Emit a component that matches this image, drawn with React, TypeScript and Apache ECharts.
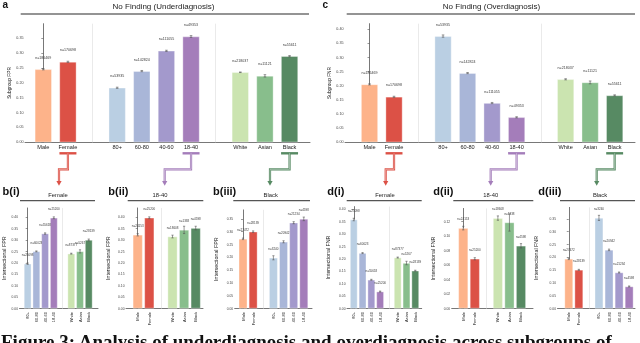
import React, { useEffect, useRef } from 'react';
import * as echarts from 'echarts';

// ---------------- data ----------------
const topNames = ['Male', 'Female', '80+', '60-80', '40-60', '18-40', 'White', 'Asian', 'Black'];
const topIdx = [0, 1, 3, 4, 5, 6, 8, 9, 10];
const topGaps = [2, 7];
const topN = [186469, 170698, 53935, 142824, 111055, 49353, 218037, 11121, 55611];
const fprTop = [0.245, 0.270, 0.183, 0.239, 0.307, 0.355, 0.235, 0.223, 0.289];
const fprTopErr = [0.002, 0.002, 0.002, 0.002, 0.002, 0.003, 0.001, 0.004, 0.002];
const fnrTop = [0.205, 0.161, 0.376, 0.245, 0.139, 0.0885, 0.223, 0.212, 0.166];
const fnrTopErr = [0.002, 0.002, 0.004, 0.002, 0.002, 0.002, 0.002, 0.005, 0.002];

const femaleNames = ['80+', '60-80', '40-60', '18-40', 'White', 'Asian', 'Black'];
const femaleIdx = [0, 1, 2, 3, 5, 6, 7];
const femaleGaps = [4];
const femaleN = [25098, 60023, 55618, 25200, 87377, 5267, 28139];
const fprFemale = [0.196, 0.250, 0.328, 0.397, 0.240, 0.250, 0.300];
const fprFemaleErr = [0.003, 0.002, 0.003, 0.004, 0.002, 0.007, 0.004];
const fnrFemale = [0.358, 0.223, 0.1155, 0.068, 0.205, 0.183, 0.152];
const fnrFemaleErr = [0.005, 0.002, 0.002, 0.002, 0.002, 0.007, 0.002];

const youngNames = ['Male', 'Female', 'White', 'Asian', 'Black'];
const youngIdx = [0, 1, 3, 4, 5];
const youngGaps = [2];
const youngN = [24153, 25200, 18608, 1338, 4598];
const fprYoung = [0.3225, 0.397, 0.315, 0.344, 0.352];
const fprYoungErr = [0.005, 0.004, 0.006, 0.016, 0.008];
const fnrYoung = [0.1109, 0.0686, 0.1247, 0.1187, 0.0865];
const fnrYoungErr = [0.0025, 0.0015, 0.003, 0.012, 0.003];

const blackNames = ['Male', 'Female', '80+', '60-80', '40-60', '18-40'];
const blackIdx = [0, 1, 3, 4, 5, 6];
const blackGaps = [2];
const blackN = [27472, 28139, 3240, 20942, 21234, 4598];
const fprBlack = [0.272, 0.300, 0.198, 0.2605, 0.335, 0.350];
const fprBlackErr = [0.003, 0.003, 0.008, 0.004, 0.004, 0.007];
const fnrBlack = [0.194, 0.151, 0.354, 0.229, 0.1406, 0.086];
const fnrBlackErr = [0.003, 0.002, 0.010, 0.003, 0.002, 0.002];

const ticks035 = [0, 0.05, 0.1, 0.15, 0.2, 0.25, 0.3, 0.35];
const ticks040 = [0, 0.05, 0.1, 0.15, 0.2, 0.25, 0.3, 0.35, 0.4];
const ticks012 = [0, 0.02, 0.04, 0.06, 0.08, 0.1, 0.12];

const colorOf: Record<string, string> = {
  Male: '#FDB38A', Female: '#DC5146',
  '80+': '#BACFE3', '60-80': '#A9B6D8', '40-60': '#A399CC', '18-40': '#A47DBA',
  White: '#CBE4B0', Asian: '#88BE8C', Black: '#578A63',
};

const FONT = "'Liberation Sans', Arial, Helvetica, sans-serif";
const GRAY = '#555';

type Panel = {
  left: number; top: number; width: number; height: number;
  xmin: number; xmax: number; ymax: number; big: boolean;
  idx: number[]; names: string[]; vals: number[]; errs: number[]; ns: number[];
  gaps: number[]; yTicks: number[]; yName: string; nameGap: number;
};

const panels: Panel[] = [
  // a
  { left: 25, top: 23.7, width: 285, height: 118.6, xmin: -0.743, xmax: 10.83, ymax: 0.398, big: true,
    idx: topIdx, names: topNames, vals: fprTop, errs: fprTopErr, ns: topN, gaps: topGaps, yTicks: ticks035, yName: 'Subgroup FPR', nameGap: 13.5 },
  // c
  { left: 345, top: 23.65, width: 290, height: 118.65, xmin: -1.0, xmax: 10.83, ymax: 0.42, big: true,
    idx: topIdx, names: topNames, vals: fnrTop, errs: fnrTopErr, ns: topN, gaps: topGaps, yTicks: ticks040, yName: 'Subgroup FNR', nameGap: 12 },
  // b(i)
  { left: 19, top: 207.96, width: 79, height: 100.54, xmin: -0.933, xmax: 8.06, ymax: 0.44, big: false,
    idx: femaleIdx, names: femaleNames, vals: fprFemale, errs: fprFemaleErr, ns: femaleN, gaps: femaleGaps, yTicks: ticks040, yName: 'Intersectional FPR', nameGap: 13.5 },
  // b(ii)
  { left: 126, top: 207.96, width: 77, height: 100.54, xmin: -1.01, xmax: 5.63, ymax: 0.44, big: false,
    idx: youngIdx, names: youngNames, vals: fprYoung, errs: fprYoungErr, ns: youngN, gaps: youngGaps, yTicks: ticks040, yName: 'Intersectional FPR', nameGap: 16 },
  // b(iii)
  { left: 234.7, top: 209.9, width: 77.3, height: 98.6, xmin: -0.82, xmax: 6.81, ymax: 0.385, big: false,
    idx: blackIdx, names: blackNames, vals: fprBlack, errs: fprBlackErr, ns: blackN, gaps: blackGaps, yTicks: ticks035, yName: 'Intersectional FPR', nameGap: 16.4 },
  // d(i)
  { left: 347, top: 206.6, width: 74.7, height: 101.9, xmin: -0.77, xmax: 7.73, ymax: 0.41, big: false,
    idx: femaleIdx, names: femaleNames, vals: fnrFemale, errs: fnrFemaleErr, ns: femaleN, gaps: femaleGaps, yTicks: ticks040, yName: 'Intersectional FNR', nameGap: 16.5 },
  // d(ii)
  { left: 451.7, top: 208.45, width: 81.3, height: 100.05, xmin: -1.0, xmax: 6.04, ymax: 0.138, big: false,
    idx: youngIdx, names: youngNames, vals: fnrYoung, errs: fnrYoungErr, ns: youngN, gaps: youngGaps, yTicks: ticks012, yName: 'Intersectional FNR', nameGap: 16.5 },
  // d(iii)
  { left: 557.5, top: 207.4, width: 77.5, height: 101.1, xmin: -1.12, xmax: 6.58, ymax: 0.395, big: false,
    idx: blackIdx, names: blackNames, vals: fnrBlack, errs: fnrBlackErr, ns: blackN, gaps: blackGaps, yTicks: ticks035, yName: 'Intersectional FNR', nameGap: 19 },
];

function centerX(p: Panel, i: number) {
  const slot = p.width / (p.xmax - p.xmin);
  return p.left + (i - p.xmin) * slot;
}

function lighten(hex: string, t: number) {
  const n = parseInt(hex.slice(1), 16);
  const r = (n >> 16) & 255, g = (n >> 8) & 255, b = n & 255;
  const f = (c: number) => Math.round(c + (255 - c) * t);
  return `rgb(${f(r)},${f(g)},${f(b)})`;
}

function connector(p: Panel, name: string, targetX: number): any[] {
  const i = p.idx[p.names.indexOf(name)];
  const cx = centerX(p, i);
  const slot = p.width / (p.xmax - p.xmin);
  const half = slot * 0.69 / 2;
  const col = colorOf[name];
  const pts = [[cx, 153.3], [cx, 169.3], [targetX, 169.3], [targetX, 181.5]];
  return [
    { type: 'line', shape: { x1: cx - half, y1: 153.3, x2: cx + half, y2: 153.3 }, style: { stroke: col, lineWidth: 2.4 } },
    { type: 'polyline', shape: { points: pts }, style: { stroke: col, lineWidth: 2.2, fill: null } },
    { type: 'polyline', shape: { points: pts }, style: { stroke: lighten(col, 0.55), lineWidth: 0.8, fill: null } },
    { type: 'polygon', shape: { points: [[targetX - 2.6, 181], [targetX + 2.6, 181], [targetX, 185.8]] }, style: { fill: col } },
  ];
}

function txt(x: number, y: number, text: string, size: number, opts: any = {}) {
  const style: any = {
    text, fontSize: size, fontFamily: opts.family || FONT, fontWeight: opts.weight || 'normal',
    fill: opts.color || '#222', align: opts.align || 'left', verticalAlign: opts.va || 'middle',
  };
  if (opts.lineHeight) style.lineHeight = opts.lineHeight;
  return { type: 'text', x, y, style };
}

function hline(x1: number, x2: number, y: number, w: number, color = '#555') {
  return { type: 'line', shape: { x1, y1: y, x2, y2: y }, style: { stroke: color, lineWidth: w } };
}

function buildOption() {
  const grid: any[] = [], xAxis: any[] = [], yAxis: any[] = [], series: any[] = [];
  panels.forEach((p, k) => {
    const slot = p.width / (p.xmax - p.xmin);
    grid.push({ left: p.left, top: p.top, width: p.width, height: p.height });
    xAxis.push({
      type: 'value', gridIndex: k, min: p.xmin, max: p.xmax,
      axisLine: { show: true, onZero: false, lineStyle: { color: GRAY, width: 0.8 } },
      axisTick: { show: false }, splitLine: { show: false },
      axisLabel: {
        customValues: p.idx,
        formatter: (v: number) => p.names[p.idx.indexOf(Math.round(v))] || '',
        fontSize: p.big ? 5.6 : 4, color: '#222', fontFamily: FONT,
        margin: p.big ? 1.8 : 3.5, rotate: p.big ? 0 : 90,
      },
    });
    yAxis.push({
      type: 'value', gridIndex: k, min: 0, max: p.ymax,
      axisLine: { show: true, lineStyle: { color: GRAY, width: 0.8 } },
      axisTick: { show: true, length: 2, customValues: p.yTicks, lineStyle: { color: GRAY, width: 0.6 } },
      axisLabel: {
        customValues: p.yTicks, formatter: (v: number) => v.toFixed(2),
        fontSize: p.big ? 3.7 : 3.3, color: '#444', margin: 1.5, fontFamily: FONT,
      },
      splitLine: { show: false },
      name: p.yName, nameLocation: 'middle', nameGap: p.nameGap,
      nameTextStyle: { fontSize: p.big ? 4.8 : 5.3, color: '#222', fontFamily: FONT },
    });
    series.push({
      type: 'bar', xAxisIndex: k, yAxisIndex: k,
      barWidth: slot * (p.big ? 0.69 : 0.85),
      data: p.idx.map((x, i) => ({
        value: [x, p.vals[i]],
        itemStyle: { color: colorOf[p.names[i]] },
      })),
      itemStyle: { borderColor: 'rgba(255,255,255,0.6)', borderWidth: 0.6 },
      markLine: {
        silent: true, symbol: ['none', 'none'], label: { show: false },
        lineStyle: { color: '#e4e4e4', width: 0.8, type: 'solid' },
        data: p.gaps.map((g) => ({ xAxis: g })),
      },
      z: 2,
    });
    // error bars + sample size labels
    series.push({
      type: 'custom', xAxisIndex: k, yAxisIndex: k, silent: true, z: 5,
      data: p.idx.map((x, i) => [x, p.vals[i] - p.errs[i], p.vals[i] + p.errs[i], p.vals[i], p.ns[i]]),
      encode: { x: 0, y: [1, 2] },
      renderItem: (params: any, api: any) => {
        const lo = api.coord([api.value(0), api.value(1)]);
        const hi = api.coord([api.value(0), api.value(2)]);
        const top = api.coord([api.value(0), api.value(3)]);
        const w = p.big ? 1.3 : 1.1;
        const st = { stroke: '#555', lineWidth: 0.6 };
        return {
          type: 'group', children: [
            { type: 'line', shape: { x1: lo[0], y1: lo[1], x2: hi[0], y2: hi[1] }, style: st },
            { type: 'line', shape: { x1: lo[0] - w, y1: lo[1], x2: lo[0] + w, y2: lo[1] }, style: st },
            { type: 'line', shape: { x1: hi[0] - w, y1: hi[1], x2: hi[0] + w, y2: hi[1] }, style: st },
            {
              type: 'text', x: top[0], y: top[1] - (p.big ? 11.5 : 9),
              style: {
                text: 'n=' + api.value(4), fontSize: p.big ? 3.6 : 3, fontFamily: FONT,
                fill: '#3a3a3a', align: 'center', verticalAlign: 'middle',
              },
            },
          ],
        };
      },
    });
  });

  const graphic: any[] = [
    txt(2.5, 0.5, 'a', 10, { weight: 'bold', color: '#111', va: 'top', lineHeight: 7 }),
    txt(322.5, 0.5, 'c', 10, { weight: 'bold', color: '#111', va: 'top', lineHeight: 7 }),
    txt(163.5, 6, 'No Finding (Underdiagnosis)', 8, { align: 'center' }),
    txt(491.5, 6, 'No Finding (Overdiagnosis)', 8, { align: 'center' }),
    hline(20.7, 309, 14, 1.5, '#707070'),
    hline(346.7, 635, 14, 1.5, '#707070'),
    // bottom panel labels
    txt(2.5, 190.5, 'b(i)', 11, { weight: 'bold', color: '#111' }),
    txt(108.3, 190.5, 'b(ii)', 11, { weight: 'bold', color: '#111' }),
    txt(213, 190.5, 'b(iii)', 11, { weight: 'bold', color: '#111' }),
    txt(327.3, 190.5, 'd(i)', 11, { weight: 'bold', color: '#111' }),
    txt(433.3, 190.5, 'd(ii)', 11, { weight: 'bold', color: '#111' }),
    txt(538.3, 190.5, 'd(iii)', 11, { weight: 'bold', color: '#111' }),
    // subtitles
    txt(58, 195, 'Female', 5.8, { align: 'center' }),
    txt(160, 194.5, '18-40', 5.8, { align: 'center' }),
    txt(270.7, 195, 'Black', 5.8, { align: 'center' }),
    txt(385, 195, 'Female', 5.8, { align: 'center' }),
    txt(490.7, 194.5, '18-40', 5.8, { align: 'center' }),
    txt(600, 195, 'Black', 5.8, { align: 'center' }),
    hline(20, 95, 200.7, 1.3),
    hline(127.7, 203.3, 200.7, 1.3),
    hline(233.3, 310, 200.7, 1.3),
    hline(346.7, 421.7, 200.7, 1.3),
    hline(453.3, 533.3, 200.7, 1.3),
    hline(560, 635, 200.7, 1.3),
    ...connector(panels[0], 'Female', 59),
    ...connector(panels[0], '18-40', 164.7),
    ...connector(panels[0], 'Black', 270),
    ...connector(panels[1], 'Female', 385.7),
    ...connector(panels[1], '18-40', 490.7),
    ...connector(panels[1], 'Black', 596.7),
    txt(1, 340.9, 'Figure 3: Analysis of underdiagnosis and overdiagnosis across subgroups of', 19,
      { weight: 'bold', family: "'Liberation Serif', 'Times New Roman', serif", color: '#111', va: 'top', lineHeight: 2 }),
  ];

  return {
    animation: false,
    backgroundColor: '#ffffff',
    textStyle: { fontFamily: FONT },
    grid, xAxis, yAxis, series, graphic,
  };
}

export default function App() {
  const ref = useRef<HTMLDivElement>(null);
  useEffect(() => {
    if (!ref.current) return;
    const chart = echarts.init(ref.current, undefined, { renderer: 'svg' });
    chart.setOption(buildOption() as any);
    return () => chart.dispose();
  }, []);
  return (
    <div
      ref={ref}
      style={{
        position: 'fixed', left: 0, top: 0, width: 640, height: 343, background: '#fff',
        filter: 'grayscale(0)',
      }}
    />
  );
}
